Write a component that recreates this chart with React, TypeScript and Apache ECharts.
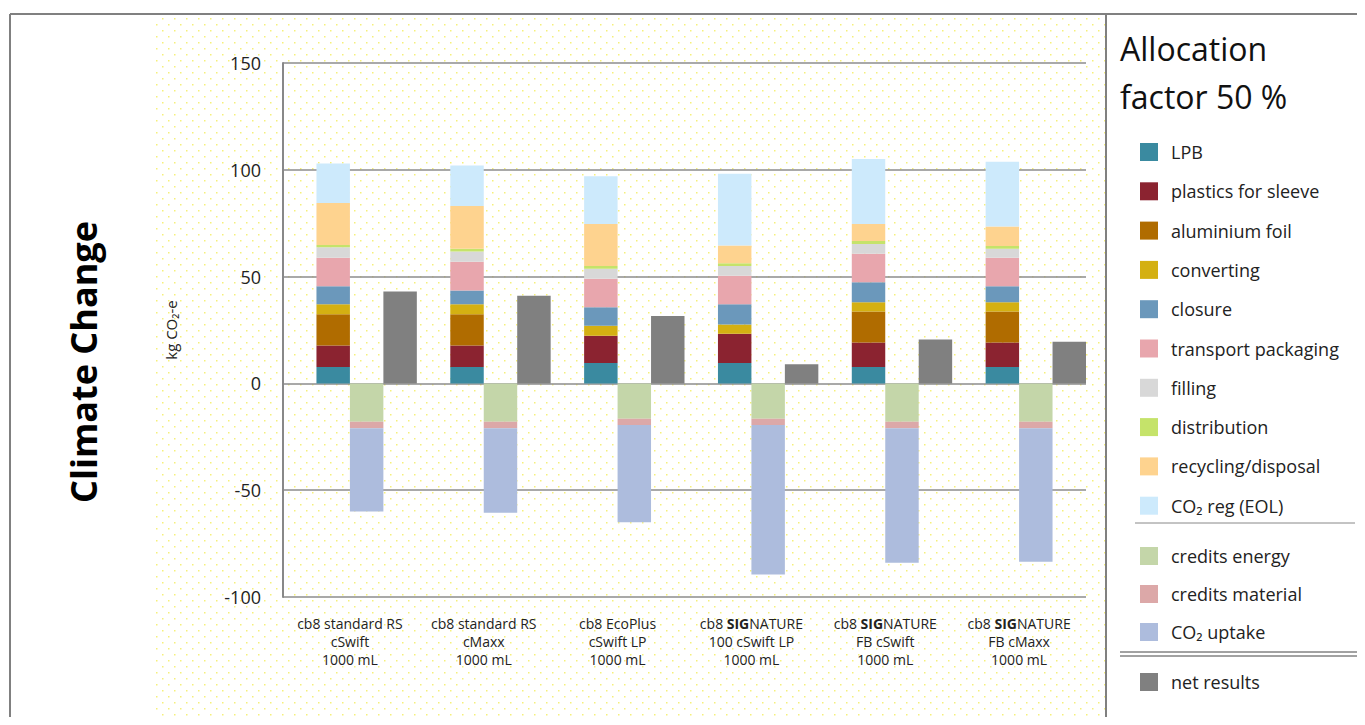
import { useEffect, useRef } from 'react';
import * as echarts from 'echarts';

const categories = [
  'cb8 standard RS\ncSwift\n1000 mL',
  'cb8 standard RS\ncMaxx\n1000 mL',
  'cb8 EcoPlus\ncSwift LP\n1000 mL',
  'cb8 {b|SIG}NATURE\n100 cSwift LP\n1000 mL',
  'cb8 {b|SIG}NATURE\nFB cSwift\n1000 mL',
  'cb8 {b|SIG}NATURE\nFB cMaxx\n1000 mL',
];

const positiveNames = ['LPB', 'plastics for sleeve', 'aluminium foil', 'converting', 'closure', 'transport packaging', 'filling', 'distribution', 'recycling/disposal', 'CO₂ reg (EOL)'];
const positiveColors = ['#3a8aa0', '#8b2330', '#b06c00', '#d4b012', '#6b98bb', '#e8a6ad', '#d8d8d8', '#c5e36a', '#fed38f', '#cdeafc'];
const positiveValues = [
  [7.7, 7.7, 9.6, 9.6, 7.7, 7.7],
  [10.1, 10.1, 12.7, 13.6, 11.4, 11.4],
  [14.6, 14.6, 0, 0, 14.6, 14.6],
  [4.7, 4.6, 4.7, 4.4, 4.3, 4.3],
  [8.4, 6.5, 8.6, 9.5, 9.3, 7.5],
  [13.3, 13.5, 13.4, 13.3, 13.4, 13.3],
  [4.9, 4.7, 4.7, 4.6, 4.6, 4.2],
  [1.1, 1.3, 1.3, 1.3, 1.4, 1.3],
  [19.6, 20, 19.6, 8.3, 7.9, 9.1],
  [18.6, 19, 22.4, 33.5, 30.4, 30.4],
];

const negativeNames = ['credits energy', 'credits material', 'CO₂ uptake'];
const negativeColors = ['#c4d6a9', '#dca8a8', '#adbcdd'];
const negativeValues = [
  [-18, -18, -16.5, -16.5, -18, -18],
  [-3, -3, -3, -3, -3, -3],
  [-39, -39.5, -45.5, -70, -63, -62.5],
];

const netName = 'net results';
const netValues = [43, 41, 31.5, 9, 20.5, 19.5];

const yTicks = { min: -100, max: 150, interval: 50 };

export default function App() {
  const ref = useRef<HTMLDivElement>(null);

  useEffect(() => {
    if (!ref.current) return;
    const chart = echarts.init(ref.current, undefined, { renderer: 'svg' });

    // sparse yellow dots behind the plot
    const cv = document.createElement('canvas');
    cv.width = 12;
    cv.height = 12;
    const ctx = cv.getContext('2d')!;
    ctx.fillStyle = '#ffffff';
    ctx.fillRect(0, 0, 12, 12);
    ctx.fillStyle = '#f5f07a';
    ctx.fillRect(0, 0, 1.5, 1.5);
    ctx.fillRect(6, 6, 1.5, 1.5);

    const series: any[] = [
      { name: '_empty', type: 'bar', stack: 'e', data: categories.map(() => null), silent: true },
    ];
    positiveNames.forEach((n, i) =>
      series.push({ name: n, type: 'bar', stack: 'pos', data: positiveValues[i], itemStyle: { color: positiveColors[i] } })
    );
    negativeNames.forEach((n, i) =>
      series.push({ name: n, type: 'bar', stack: 'neg', data: negativeValues[i], itemStyle: { color: negativeColors[i] } })
    );
    series.push({ name: netName, type: 'bar', data: netValues, itemStyle: { color: '#808080' } });
    series.forEach((s) => {
      s.barGap = '0%';
      s.barCategoryGap = '0%';
    });

    const legendText = { fontSize: 18, color: '#222', fontFamily: 'Open Sans', padding: [0, 0, 0, 8] };
    chart.setOption({
      animation: false,
      textStyle: { fontFamily: 'Open Sans' },
      grid: { left: 283, right: 279, top: 63, bottom: 128 },
      xAxis: {
        type: 'category',
        data: categories,
        axisTick: { show: false },
        axisLine: { show: false },
        axisLabel: {
          interval: 0,
          fontSize: 14,
          color: '#222',
          lineHeight: 18,
          margin: 17,
          rich: { b: { fontWeight: 'bold', fontSize: 14 } },
        },
      },
      yAxis: {
        type: 'value',
        ...yTicks,
        name: 'kg CO₂-e',
        nameLocation: 'middle',
        nameGap: 105,
        nameTextStyle: { fontSize: 15, color: '#222' },
        axisLabel: { fontSize: 18, color: '#222', margin: 22 },
        axisLine: { show: true, lineStyle: { color: '#888', width: 2 } },
        splitLine: { lineStyle: { color: '#8c8c8c', width: 1.5 } },
      },
      legend: [
        {
          data: positiveNames, orient: 'vertical', left: 1135, top: 138, itemWidth: 18, itemHeight: 18,
          itemGap: 21.3, icon: 'rect', textStyle: legendText, selectedMode: false,
        },
        {
          data: negativeNames, orient: 'vertical', left: 1135, top: 542, itemWidth: 18, itemHeight: 18,
          itemGap: 20, icon: 'rect', textStyle: legendText, selectedMode: false,
        },
        {
          data: [netName], orient: 'vertical', left: 1135, top: 668, itemWidth: 18, itemHeight: 18,
          icon: 'rect', textStyle: legendText, selectedMode: false,
        },
      ],
      graphic: [
        { type: 'rect', z: -10, shape: { x: 155, y: 16, width: 950, height: 709 }, style: { fill: { image: cv, repeat: 'repeat' } as any } },
        { type: 'line', shape: { x1: 10, y1: 14, x2: 1365, y2: 14 }, style: { stroke: '#808080', lineWidth: 2 } },
        { type: 'line', shape: { x1: 10, y1: 14, x2: 10, y2: 725 }, style: { stroke: '#808080', lineWidth: 2 } },
        { type: 'line', shape: { x1: 1106, y1: 14, x2: 1106, y2: 725 }, style: { stroke: '#808080', lineWidth: 2 } },
        { type: 'line', shape: { x1: 1135, y1: 523, x2: 1355, y2: 523 }, style: { stroke: '#888', lineWidth: 1 } },
        { type: 'line', shape: { x1: 1120, y1: 652, x2: 1365, y2: 652 }, style: { stroke: '#444', lineWidth: 1 } },
        { type: 'line', shape: { x1: 1120, y1: 656, x2: 1365, y2: 656 }, style: { stroke: '#444', lineWidth: 1 } },
        { type: 'text', x: 1120, y: 24, style: { text: 'Allocation\nfactor 50 %', fontSize: 32, lineHeight: 48, fill: '#111', fontFamily: 'Open Sans' } },
        {
          type: 'text', x: 83, y: 362, rotation: Math.PI / 2,
          style: { text: 'Climate Change', fontSize: 36, fontWeight: 'bold', fill: '#000', align: 'center', verticalAlign: 'middle', fontFamily: 'Open Sans' },
        },
      ],
      series,
    });

    return () => chart.dispose();
  }, []);

  return <div ref={ref} style={{ width: 1365, height: 725, margin: -8 }} />;
}
